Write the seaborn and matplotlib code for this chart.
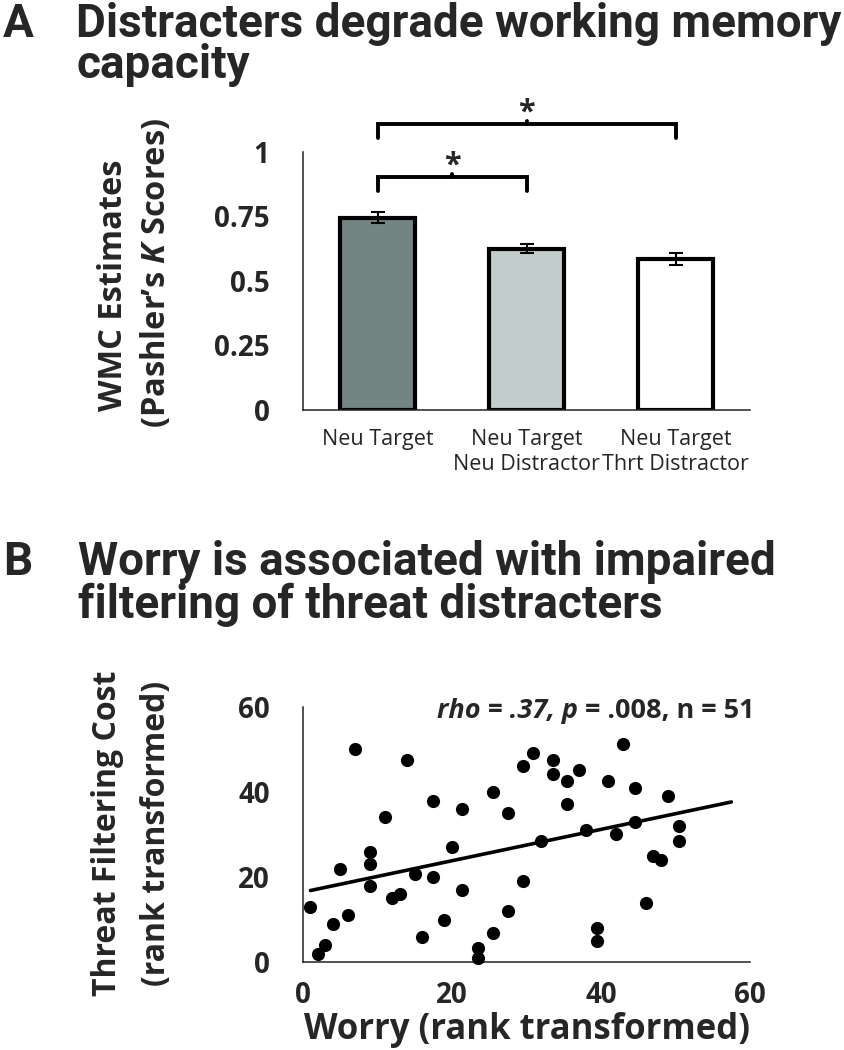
import numpy as np
import pandas as pd
import seaborn as sns
import matplotlib
matplotlib.use("Agg")
import matplotlib.pyplot as plt

# panel A - working memory capacity per condition
conditions = ["Neu Target", "Neu Target\nNeu Distractor", "Neu Target\nThrt Distractor"]
wmc_mean = [0.745, 0.625, 0.585]
wmc_sem = [0.022, 0.018, 0.024]
bar_colors = ["#748482", "#c2cdcb", "#ffffff"]
wmc_ticks = [0, 0.25, 0.5, 0.75, 1]
wmc_ticklabels = ["0", "0.25", "0.5", "0.75", "1"]
sig_pairs = [(0, 1), (0, 2)]

# panel B - worry vs threat filtering cost (rank transformed), n = 51
worry = [7.0, 13.9, 1.0, 2.0, 3.0, 4.0, 4.9, 6.0, 9.0, 9.0,
         9.0, 11.0, 11.9, 13.0, 15.0, 16.0, 17.4, 17.4, 18.9, 20.0,
         21.4, 21.4, 23.5, 23.5, 25.5, 25.5, 27.5, 27.5, 29.5, 29.5,
         30.9, 32.0, 33.5, 33.5, 35.4, 35.4, 37.0, 38.0, 41.0, 43.0,
         42.0, 44.5, 44.5, 39.4, 39.4, 46.0, 47.0, 48.0, 49.0, 50.5,
         50.5]
threat_cost = [50.1, 47.6, 13.0, 2.0, 3.9, 8.9, 22.0, 11.0, 25.9, 23.0,
               17.9, 34.1, 15.0, 16.0, 20.8, 5.9, 38.0, 19.9, 10.0, 27.0,
               36.0, 16.9, 3.2, 0.9, 40.1, 6.9, 35.1, 12.0, 19.0, 46.2,
               49.1, 28.5, 47.6, 44.2, 42.7, 37.1, 45.2, 31.1, 42.7, 51.3,
               30.1, 41.0, 33.0, 8.0, 5.0, 14.0, 25.0, 24.0, 39.1, 32.1,
               28.5]
scatter_ticks = [0, 20, 40, 60]
trend_span = [1, 57.5]  # trendline drawn a bit past the data

sns.set_style("white")
plt.rcParams["font.family"] = ["Open Sans", "DejaVu Sans"]
plt.rcParams["mathtext.fontset"] = "custom"
plt.rcParams["mathtext.it"] = "Open Sans:italic:bold"
plt.rcParams["mathtext.rm"] = "Open Sans:bold"
plt.rcParams["mathtext.bf"] = "Open Sans:bold"

W, H = 844, 1050
fig = plt.figure(figsize=(W / 100, H / 100), dpi=100)
ax1 = fig.add_axes([303 / W, 1 - 410 / H, 447 / W, 258 / H])
ax2 = fig.add_axes([303 / W, 1 - 962 / H, 447 / W, 255 / H])

title_font = ["Roboto", "Open Sans"]

def style_axes(ax):
    sns.despine(ax=ax)
    for s in ["left", "bottom"]:
        ax.spines[s].set_color("#222222")
        ax.spines[s].set_linewidth(1.1)
    ax.tick_params(axis="y", direction="out", length=7, width=1.1, color="#222222",
                   pad=17, labelsize=20)
    for lab in ax.get_yticklabels():
        lab.set_fontweight("bold")

def side_label(text, x, y, size):
    # rotated axis title line, placed in figure pixels
    fig.text(x / W, 1 - y / H, text, rotation=90, rotation_mode="anchor",
             ha="center", va="center", fontsize=size, fontweight="bold")

# ---- A: bars
df_a = pd.DataFrame({"cond": conditions, "wmc": wmc_mean})
sns.barplot(data=df_a, x="cond", y="wmc", hue="cond", palette=bar_colors, legend=False,
            width=0.51, edgecolor="black", linewidth=3, saturation=1, ax=ax1)
ax1.errorbar(np.arange(len(conditions)), wmc_mean, yerr=wmc_sem, fmt="none",
             ecolor="black", elinewidth=1.5, capsize=5, capthick=1.5, zorder=5)
ax1.set_xlim(-0.5, 2.5)
ax1.set_ylim(0, 1)
ax1.set_yticks(wmc_ticks)
ax1.set_yticklabels(wmc_ticklabels)
ax1.set_xticks(np.arange(-0.5, 3, 1), minor=True)
ax1.tick_params(axis="x", which="major", length=0, pad=14, labelsize=15.5)
ax1.tick_params(axis="x", which="minor", length=7, width=1.1, color="#222222")
style_axes(ax1)
ax1.set_xlabel("")
ax1.set_ylabel("")
side_label("WMC Estimates", 114, 285, 23.5)
side_label("(Pashler’s $K$ Scores)", 156, 273, 23.5)

# significance brackets
for (i, j), top in zip(sig_pairs, [0.902, 1.109]):
    leg = top - 0.053
    ax1.plot([i, i, j, j], [leg, top, top, leg], color="black", lw=2.8,
             clip_on=False, solid_joinstyle="miter")
    mid = (i + j) / 2
    ax1.plot([mid, mid], [top, top + 0.012], color="black", lw=2.8, clip_on=False)
    ax1.text(mid, top + 0.045, "*", ha="center", va="center", fontsize=22,
             fontweight="bold")

# ---- B: scatter
df_b = pd.DataFrame({"worry": worry, "cost": threat_cost})
sns.scatterplot(data=df_b, x="worry", y="cost", color="black", s=90, linewidth=0,
                ax=ax2, clip_on=False, zorder=3)
slope, intercept = np.polyfit(worry, threat_cost, 1)
xs = np.array(trend_span)
ax2.plot(xs, intercept + slope * xs, color="black", lw=2.6, zorder=4)
ax2.set_xlim(0, 60)
ax2.set_ylim(0, 60)
ax2.set_xticks(scatter_ticks)
ax2.set_yticks(scatter_ticks)
style_axes(ax2)
ax2.tick_params(axis="x", direction="out", length=7, width=1.1, color="#222222",
                pad=7, labelsize=20)
for lab in ax2.get_xticklabels():
    lab.set_fontweight("bold")
ax2.set_xlabel("Worry (rank transformed)", fontsize=25, fontweight="bold", labelpad=1)
ax2.set_ylabel("")
side_label("Threat Filtering Cost", 108, 833, 23)
side_label("(rank transformed)", 156, 833, 23)

# stats line: italic part, then upright part chained after it
t1 = ax2.text((437 - 303) / 447, (962 - 718) / 255, "rho = .37, p",
              transform=ax2.transAxes, ha="left", va="baseline", fontsize=19.5,
              fontweight="bold", style="italic")
ax2.annotate(" = .008, n = 51", xy=(1, 0), xycoords=t1, ha="left", va="bottom",
             fontsize=19.5, fontweight="bold")

# ---- panel titles
tkw = dict(fontsize=33, fontweight="bold", family=title_font, va="baseline")
fig.text(3 / W, 1 - 37 / H, "A", **tkw)
fig.text(76 / W, 1 - 37 / H, "Distracters degrade working memory", **tkw)
fig.text(76 / W, 1 - 78 / H, "capacity", **tkw)
fig.text(3 / W, 1 - 575 / H, "B", **tkw)
fig.text(78 / W, 1 - 575 / H, "Worry is associated with impaired", **tkw)
fig.text(78 / W, 1 - 618 / H, "filtering of threat distracters", **tkw)

fig.savefig("out.png", dpi=100)
